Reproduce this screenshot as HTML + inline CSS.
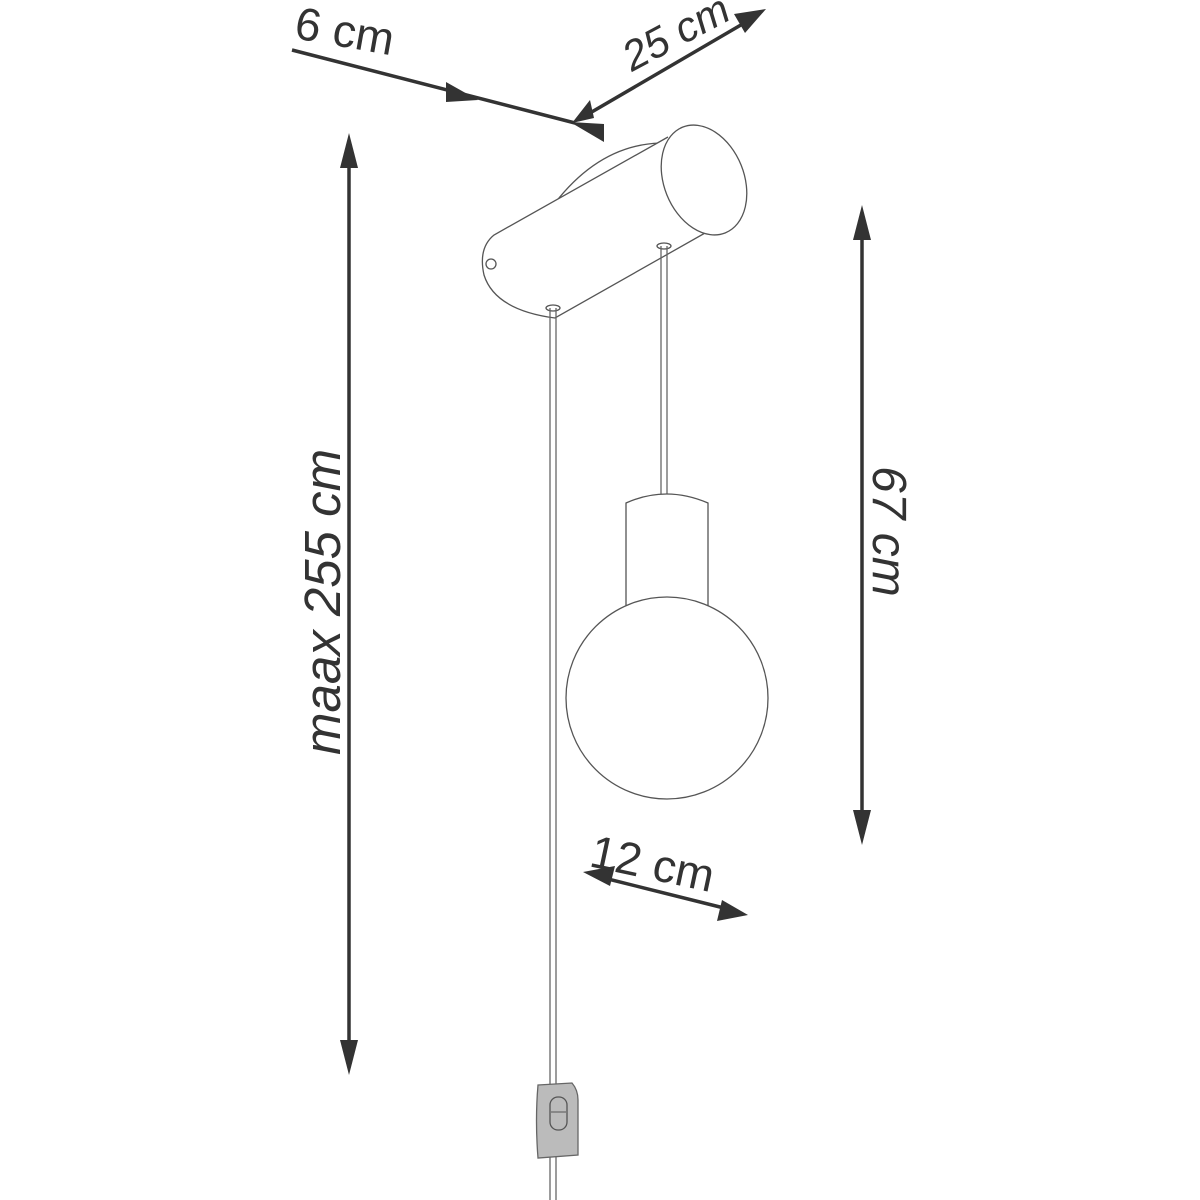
<!DOCTYPE html>
<html><head><meta charset="utf-8"><style>
html,body{margin:0;padding:0;background:#fff}
svg{display:block}
text{font-family:"Liberation Sans",sans-serif;font-size:46px;fill:#333}
</style></head><body>
<svg width="1200" height="1200" viewBox="0 0 1200 1200" xmlns="http://www.w3.org/2000/svg">
<g stroke="#333" stroke-width="3.5" fill="none">
<line x1="292" y1="50" x2="575" y2="123"/>
<line x1="578" y1="120" x2="758" y2="15"/>
<line x1="349" y1="150" x2="349" y2="1058"/>
<line x1="862" y1="222" x2="862" y2="828"/>
<line x1="600" y1="877" x2="732" y2="910"/>
</g>
<g fill="#333">
<polygon points="478,100 446,82 446,102"/>
<polygon points="570,122 604,124 604,142"/>
<polygon points="572,123 590,100 594,118"/>
<polygon points="766,9 734,14 745,33"/>
<polygon points="349,133 340,168 358,168"/>
<polygon points="349,1075 340,1040 358,1040"/>
<polygon points="862,205 853,240 871,240"/>
<polygon points="862,845 853,810 871,810"/>
<polygon points="583,872 615,866 610,886"/>
<polygon points="748,915 717,921 722,900"/>
</g>
<text x="293" y="38" transform="rotate(10 293 38)">6 cm</text>
<text x="632" y="72" transform="rotate(-28 632 72)" font-style="italic" style="font-size:42px">25 cm</text>
<text x="588" y="866" transform="rotate(12 588 866)">12 cm</text>
<text transform="translate(340 755) rotate(-90)" font-style="italic" style="font-size:51px">maax 255 cm</text>
<text transform="translate(873 466) rotate(90)" font-style="italic" style="font-size:48px">67 cm</text>
<g stroke="#555" stroke-width="1.3" fill="#fff">
<path d="M555,203 Q600,145 660,143 L665,150 Q610,160 560,210 Z"/>
<path d="M668,137 L494,235 Q478,248 484,275 Q495,310 555,318 L728,220"/>
<ellipse cx="704" cy="180" rx="40" ry="57" transform="rotate(-22 704 180)"/>
<circle cx="491" cy="264" r="5"/>
<ellipse cx="553" cy="308" rx="7" ry="3"/>
<ellipse cx="664" cy="246" rx="7" ry="3"/>
</g>
<g stroke="#666" stroke-width="1.3" fill="none">
<line x1="550" y1="308" x2="550" y2="1200"/>
<line x1="556" y1="308" x2="556" y2="1200"/>
<line x1="661" y1="246" x2="661" y2="495"/>
<line x1="667" y1="246" x2="667" y2="495"/>
</g>
<g stroke="#555" stroke-width="1.3" fill="#fff">
<path d="M626,503 Q666,485 708,503 L708,606 L626,606 Z"/>
<circle cx="667" cy="698" r="101"/>
</g>
<path d="M538,1085 L572,1083 Q578,1090 578,1100 L578,1155 L538,1158 Q535,1120 538,1085 Z" fill="#bbb" stroke="#666" stroke-width="1.3"/>
<rect x="550" y="1097" width="17" height="33" rx="8" fill="#bbb" stroke="#555" stroke-width="1.3"/>
<line x1="551" y1="1112" x2="566" y2="1112" stroke="#555" stroke-width="1"/>
</svg>
</body></html>
